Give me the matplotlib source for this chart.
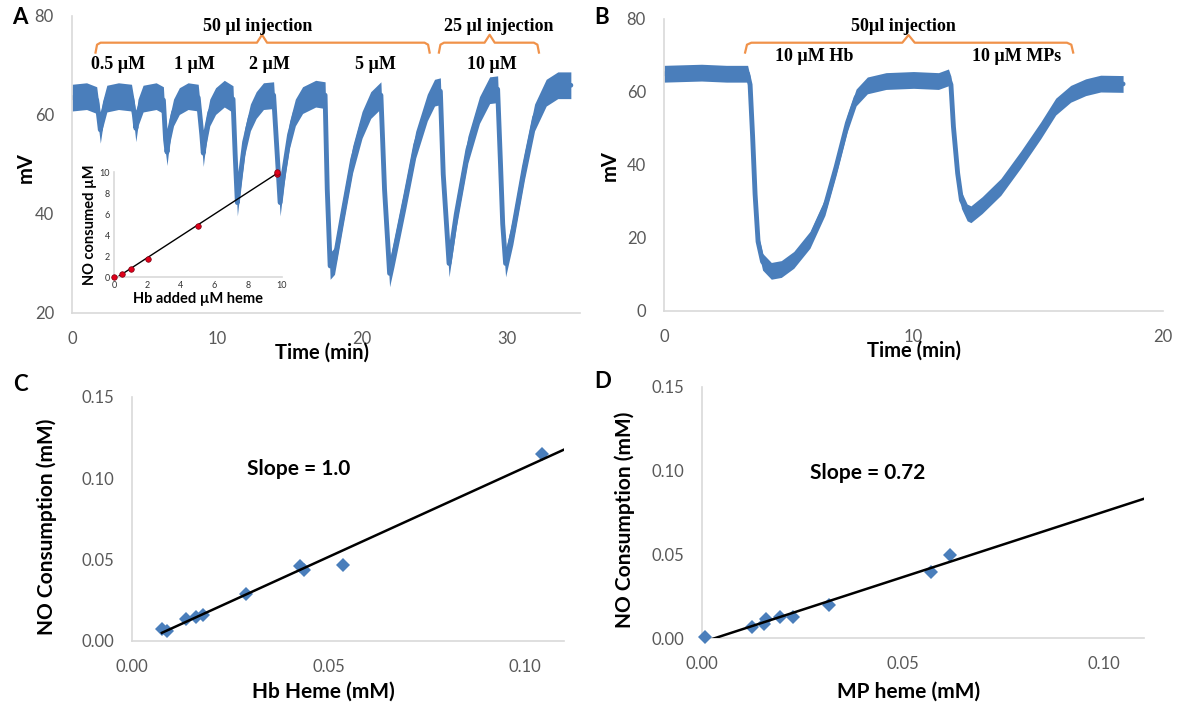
import numpy as np
import matplotlib
matplotlib.use('Agg')
import matplotlib.pyplot as plt
from matplotlib.ticker import FormatStrFormatter

plt.rcParams['font.family'] = ['Lato', 'DejaVu Sans']

# A: electrode trace (time in min, signal in mV), read along the middle of the dotted band
a_time = [0, 1.0, 1.7, 1.85, 1.95, 2.1, 2.4,
          3.2, 4.1, 4.3, 4.4, 4.55, 4.9,
          5.8, 6.3, 6.45, 6.55, 6.7, 7.0, 7.4,
          8.0, 8.7, 8.95, 9.05, 9.2, 9.5, 9.9,
          10.5, 11.1, 11.25, 11.4, 11.6, 11.9, 12.3, 12.7,
          13.2, 13.9, 14.15, 14.35, 14.6, 15.0, 15.4, 15.9,
          16.8, 17.45, 17.6, 17.8, 18.1, 18.7, 19.35, 20.0, 20.6,
          21.3, 21.55, 21.9, 22.2, 23.0, 23.7, 24.5, 25.0,
          25.4, 25.6, 26.0, 26.5, 27.3, 28.1, 28.8,
          29.35, 29.55, 29.7, 29.9, 30.4, 31.2, 31.9, 32.7, 33.5, 34.4]
a_mv = [63.5, 63.8, 63.0, 59.5, 57.0, 60.0, 63.3,
        63.8, 63.5, 60.0, 57.3, 60.5, 63.3,
        63.8, 63.0, 55.0, 52.5, 56.5, 60.5, 62.8,
        63.8, 63.5, 56.0, 52.3, 56.0, 60.5, 62.8,
        64.3, 63.2, 52.0, 42.3, 47.5, 54.5, 59.5, 62.0,
        63.8, 64.0, 52.0, 42.3, 48.5, 56.0, 60.5, 63.0,
        64.3, 64.0, 45.0, 29.5, 30.5, 40.5, 51.0, 58.0, 62.0,
        64.0, 45.0, 28.0, 32.0, 43.5, 54.0, 61.5, 64.5,
        64.8, 48.0, 30.0, 40.0, 53.0, 61.0, 65.0,
        65.2, 50.0, 38.0, 30.0, 36.5, 49.6, 59.5, 64.5, 66.0, 66.0]
a_conc_labels = ['0.5 µM', '1 µM', '2 µM', '5 µM', '10 µM']
a_conc_time = [3.2, 8.45, 13.6, 20.95, 28.96]

# A inset: NO consumed vs Hb added
inset_hb = [0, 0.5, 1, 2, 5, 9.75, 9.75]
inset_no = [0, 0.3, 0.75, 1.7, 4.9, 9.8, 10.05]

# B: Hb vs MPs trace
b_time = [0, 1.5, 2.5, 3.35, 3.45, 3.55, 3.65, 3.77, 3.95, 4.3, 4.7, 5.2,
          5.85, 6.45, 6.9, 7.35, 7.7, 8.15, 8.9, 10.0, 11.0, 11.4, 11.5, 11.6,
          11.77, 11.92, 12.15, 12.3, 12.75, 13.5, 14.3, 15.1, 15.7, 16.3, 16.9, 17.5, 18.4]
b_mv = [65.0, 65.3, 65.0, 65.0, 62.0, 48.0, 32.0, 19.0, 13.5, 11.0, 11.5, 14.0,
        19.5, 28.5, 39.5, 51.5, 58.5, 61.8, 63.0, 63.3, 63.0, 64.0, 62.0, 50.5,
        37.7, 30.4, 27.0, 26.5, 29.0, 34.0, 41.5, 49.5, 56.0, 59.5, 61.3, 62.3, 62.2]

# C: Hb heme vs NO consumption (mM)
c_heme = [0.0076, 0.0089, 0.0138, 0.0162, 0.0180, 0.0290, 0.0427, 0.0438, 0.0538, 0.1043]
c_no = [0.0076, 0.0061, 0.0137, 0.0148, 0.0158, 0.0290, 0.0459, 0.0434, 0.0469, 0.1152]

# D: MP heme vs NO consumption (mM)
d_heme = [0.0008, 0.0124, 0.0154, 0.0160, 0.0195, 0.0227, 0.0316, 0.0571, 0.0617]
d_no = [0.0010, 0.0070, 0.0085, 0.0113, 0.0129, 0.0129, 0.0199, 0.0397, 0.0497]

BLUE = '#4a7ebb'
ORANGE = '#f0924a'
AXCOL = '#d9d9d9'
TICKCOL = '#595959'
SERIF = ['Liberation Serif', 'DejaVu Serif']


def style(ax, size=12, pad=13):
    for s in ['top', 'right']:
        ax.spines[s].set_visible(False)
    for s in ['left', 'bottom']:
        ax.spines[s].set_color(AXCOL)
        ax.spines[s].set_linewidth(1.2)
    ax.tick_params(length=0, pad=pad, labelsize=size, labelcolor=TICKCOL)
    ax.set_facecolor('none')


def trace(ax, t, v, hw):
    t = np.asarray(t)
    v = np.asarray(v)
    ax.fill_between(t, v - hw, v + hw, color=BLUE, lw=0)
    ax.plot(t, v, color=BLUE, lw=3.5, solid_capstyle='round', solid_joinstyle='round')


def brace(ax, x0, x1, xc, y, h, tip, dx):
    xs = [x0, x0 + dx * 0.3, x0 + dx, xc - dx, xc, xc + dx, x1 - dx, x1 - dx * 0.3, x1]
    ys = [y - h, y - h * 0.2, y, y, y + tip, y, y, y - h * 0.2, y - h]
    ax.plot(xs, ys, color=ORANGE, lw=1.6, clip_on=False, solid_joinstyle='round')


fig = plt.figure(figsize=(11.83, 7.06), dpi=100)

# ---- A ----
axA = fig.add_axes([0.0609, 0.5567, 0.4290, 0.4207])
trace(axA, a_time, a_mv, 2.7)
axA.set_xlim(0, 35)
axA.set_ylim(20, 80)
axA.set_xticks([0, 10, 20, 30])
axA.set_yticks([20, 40, 60, 80])
style(axA)
axA.set_xlabel('Time (min)', fontsize=14.5, fontweight='bold')
axA.xaxis.set_label_coords(0.493, -0.1)
axA.set_ylabel('mV', fontsize=14.5, fontweight='bold')
axA.yaxis.set_label_coords(-0.072, 0.488)
brace(axA, 1.62, 24.66, 13.1, 74.6, 2.0, 1.6, 0.35)
brace(axA, 25.3, 32.2, 28.8, 74.6, 2.0, 1.6, 0.35)
axA.text(12.8, 77.8, '50 µl injection', family=SERIF, fontweight='bold', fontsize=13,
         ha='center', va='center')
axA.text(29.4, 77.8, '25 µl injection', family=SERIF, fontweight='bold', fontsize=13,
         ha='center', va='center')
for lab, t in zip(a_conc_labels, a_conc_time):
    axA.text(t, 70.1, lab, family=SERIF, fontweight='bold', fontsize=13,
             ha='center', va='center')

# inset
axI = fig.add_axes([0.0964, 0.6076, 0.1416, 0.1487])
style(axI, size=6.5, pad=3)
axI.plot(inset_hb, inset_no, 'o', color='#e0001a', ms=4, mec='#7a0010', mew=0.5,
         clip_on=False, zorder=3)
k, b = np.polyfit(inset_hb, inset_no, 1)
xi = np.array([min(inset_hb), max(inset_hb)])
axI.plot(xi, k * xi + b, color='black', lw=1)
axI.set_xlim(0, 10)
axI.set_ylim(0, 10)
axI.set_xticks(range(0, 11, 2))
axI.set_yticks(range(0, 11, 2))
axI.tick_params(labelcolor='#333333')
axI.set_xlabel('Hb added µM heme', fontsize=10.5, fontweight='bold', labelpad=1)
axI.set_ylabel('NO consumed µM', fontsize=10.5, fontweight='bold', labelpad=2)

# ---- B ----
axB = fig.add_axes([0.5613, 0.5595, 0.4218, 0.4136])
trace(axB, b_time, b_mv, 2.3)
axB.set_xlim(0, 20)
axB.set_ylim(0, 80)
axB.set_xticks([0, 10, 20])
axB.set_yticks([0, 20, 40, 60, 80])
style(axB)
axB.set_xlabel('Time (min)', fontsize=14.5, fontweight='bold')
axB.xaxis.set_label_coords(0.5, -0.1)
axB.set_ylabel('mV', fontsize=14.5, fontweight='bold')
axB.yaxis.set_label_coords(-0.088, 0.497)
brace(axB, 3.25, 16.4, 9.8, 73.5, 2.7, 2.1, 0.25)
axB.text(9.6, 77.9, '50µl injection', family=SERIF, fontweight='bold', fontsize=13,
         ha='center', va='center')
axB.text(6.0, 69.6, '10 µM Hb', family=SERIF, fontweight='bold', fontsize=13,
         ha='center', va='center')
axB.text(14.15, 69.6, '10 µM MPs', family=SERIF, fontweight='bold', fontsize=13,
         ha='center', va='center')


# ---- C and D ----
def scatter_panel(ax, x, y, xlabel, slope_txt, txt_xy, xlab_xy, ylab_xy):
    ax.plot(x, y, 'D', color=BLUE, ms=7.5, mew=0, zorder=3, clip_on=False)
    k, b = np.polyfit(x, y, 1)
    xl = np.array([min(x), 0.11])
    ax.plot(xl, k * xl + b, color='black', lw=1.8, zorder=4)
    ax.set_xlim(0, 0.11)
    ax.set_ylim(0, 0.15)
    ax.set_xticks([0, 0.05, 0.10])
    ax.set_yticks([0, 0.05, 0.10, 0.15])
    ax.xaxis.set_major_formatter(FormatStrFormatter('%.2f'))
    ax.yaxis.set_major_formatter(FormatStrFormatter('%.2f'))
    style(ax)
    ax.set_xlabel(xlabel, fontsize=15, fontweight='bold')
    ax.xaxis.set_label_coords(*xlab_xy)
    ax.set_ylabel('NO Consumption (mM)', fontsize=15, fontweight='bold')
    ax.yaxis.set_label_coords(*ylab_xy)
    ax.text(txt_xy[0], txt_xy[1], slope_txt, fontsize=15, fontweight='bold',
            ha='center', va='center')


axC = fig.add_axes([0.1116, 0.0921, 0.3652, 0.3456])
scatter_panel(axC, c_heme, c_no, 'Hb Heme (mM)', 'Slope = 1.0', (0.0424, 0.1056),
              (0.442, -0.168), (-0.174, 0.468))

axD = fig.add_axes([0.5934, 0.0959, 0.3736, 0.3564])
scatter_panel(axD, d_heme, d_no, 'MP heme (mM)', 'Slope = 0.72', (0.0412, 0.0984),
              (0.468, -0.174), (-0.152, 0.47))

# panel letters
for lab, (px, py) in zip('ABCD', [(20, 18), (602, 18), (20, 384), (603, 382)]):
    fig.text(px / 1183, 1 - py / 706, lab, fontsize=16, fontweight='bold',
             ha='center', va='center')

fig.savefig('out.png', dpi=100)
